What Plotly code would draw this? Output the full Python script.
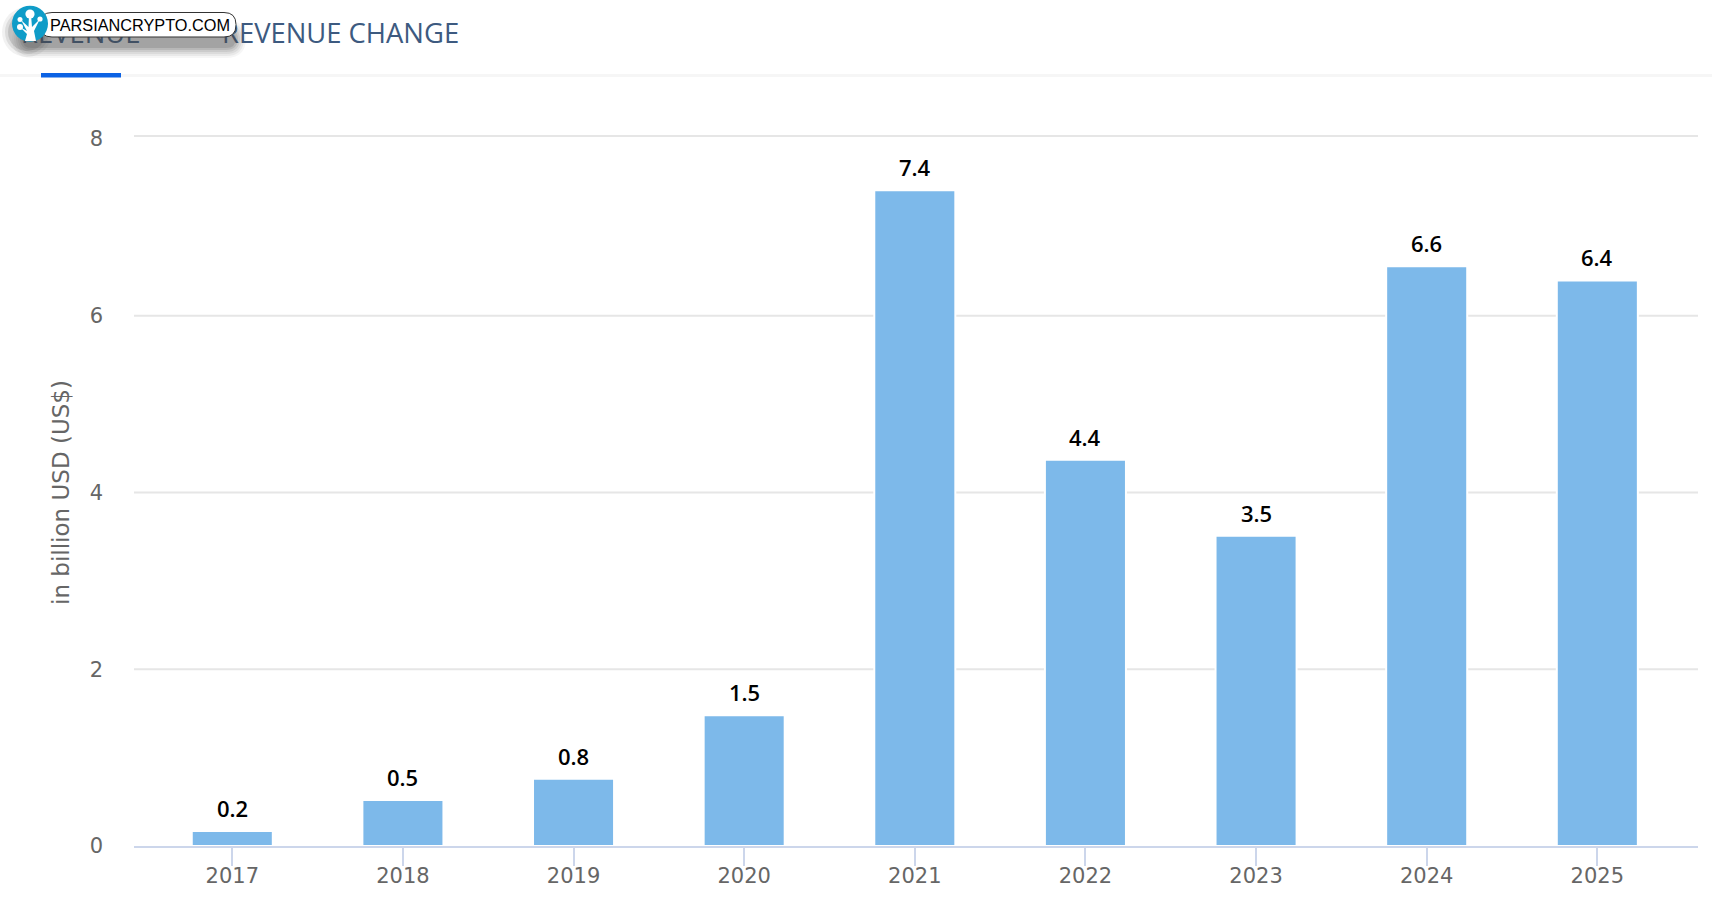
import plotly.graph_objects as go

years = ["2017", "2018", "2019", "2020", "2021", "2022", "2023", "2024", "2025"]
revenue = [0.17, 0.52, 0.76, 1.48, 7.42, 4.37, 3.51, 6.56, 6.4]
labels = ["0.2", "0.5", "0.8", "1.5", "7.4", "4.4", "3.5", "6.6", "6.4"]
y_ticks = [0, 2, 4, 6, 8]
grid_levels = [2, 4, 6]
tab_labels = ["REVENUE", "REVENUE CHANGE"]

W, H = 1712, 916
L, R, T, B = 134, 1698, 139, 846
X0, X1 = -0.576, 8.59


def px(x):
    return x / W


def py(y):
    return 1 - y / H


def rect(x0, y0, x1, y1, color):
    return dict(type="rect", xref="paper", yref="paper", x0=px(x0), x1=px(x1), y0=py(y0), y1=py(y1),
                fillcolor=color, line_width=0, layer="above")


def circ(cx, cy, r, color, opacity=1.0):
    return dict(type="circle", xref="paper", yref="paper", x0=px(cx - r), x1=px(cx + r), y0=py(cy - r), y1=py(cy + r),
                fillcolor=color, opacity=opacity, line_width=0, layer="above")


def pill(x0, y0, x1, y1, r, color, opacity=1.0, line=None):
    a = lambda x, y: f"{px(x):.5f},{py(y):.5f}"
    p = (f"M{a(x0 + r, y0)} L{a(x1 - r, y0)} Q{a(x1, y0)} {a(x1, y0 + r)} L{a(x1, y1 - r)} "
         f"Q{a(x1, y1)} {a(x1 - r, y1)} L{a(x0 + r, y1)} Q{a(x0, y1)} {a(x0, y1 - r)} "
         f"L{a(x0, y0 + r)} Q{a(x0, y0)} {a(x0 + r, y0)} Z")
    return dict(type="path", xref="paper", yref="paper", path=p, fillcolor=color, opacity=opacity,
                line=dict(color=line or color, width=1 if line else 0), layer="above")


def poly(points, color):
    p = "M" + " L".join(f"{px(x):.5f},{py(y):.5f}" for x, y in points) + " Z"
    return dict(type="path", xref="paper", yref="paper", path=p, fillcolor=color, line_width=0, layer="above")


fig = go.Figure(go.Bar(
    x=list(range(len(years))), y=revenue, width=0.475,
    marker=dict(color="#7db9ea", line=dict(color="#ffffff", width=2)),
    hoverinfo="skip",
))

# tab titles sit on an invisible full-page axis pair so the watermark shapes cover them
fig.add_trace(go.Scatter(
    x=[21, 222], y=[36, 36], xaxis="x2", yaxis="y2",
    text=tab_labels, mode="text", textposition="middle right", hoverinfo="skip",
    textfont=dict(family="Open Sans", size=27.4, color="#3d5a80", weight=500),
))

grid_line = dict(color="#e6e6e6", width=2)
shapes = [
    dict(type="line", xref="paper", yref="y", x0=L / W, x1=R / W, y0=v, y1=v, layer="below", line=grid_line)
    for v in grid_levels
]
shapes.append(dict(type="line", xref="paper", yref="paper", x0=L / W, x1=R / W, y0=py(136), y1=py(136),
                   layer="below", line=grid_line))
shapes += [rect(0, 74, W, 77, "#f6f6f6"), rect(41, 73, 121, 77.5, "#0b62e4")]
for grow, op in [(10, 0.05), (8, 0.07), (6, 0.09), (4, 0.11), (2, 0.14), (0, 0.18)]:
    shapes.append(pill(22 - grow, 30 - grow, 236 + grow, 48 + grow, 10 + grow, "#4a4a4a", op))
for grow, op in [(8, 0.08), (5, 0.12), (2, 0.18)]:
    shapes.append(circ(27, 32, 17 + grow, "#4a4a4a", op))
shapes.append(pill(40, 12.5, 236, 37, 12, "#ffffff", line="#333333"))
shapes.append(circ(30, 23.7, 18, "#0f9cc8"))
for cx, cy, r in [(30, 14, 4.6), (20, 19.5, 2.5), (20, 27, 3), (40, 19, 2.6)]:
    shapes.append(circ(cx, cy, r, "#ffffff"))
shapes.append(poly([(25, 41), (36, 41), (34, 31), (40, 19), (32, 27), (31, 15), (29, 15), (28.5, 27),
                    (21, 20), (27, 31), (20, 27), (27, 34)], "#ffffff"))

annotations = [
    dict(text=lab, x=i, y=v, yshift=23, xref="x", yref="y", xanchor="center", yanchor="middle", showarrow=False,
         font=dict(family="Open Sans", size=22, color="#000000", weight=600))
    for i, (lab, v) in enumerate(zip(labels, revenue))
]
annotations.append(dict(text="PARSIANCRYPTO.COM", x=px(47.5), y=py(25), xref="paper", yref="paper", xanchor="left",
                        yanchor="middle", showarrow=False,
                        font=dict(family="Liberation Sans", size=16.3, color="#000000")))

fig.update_layout(
    width=W, height=H, showlegend=False, plot_bgcolor="rgba(0,0,0,0)", paper_bgcolor="#ffffff",
    margin=dict(l=0, r=0, t=0, b=0, pad=0),
    shapes=shapes, annotations=annotations,
    xaxis=dict(
        domain=[L / W, R / W], anchor="y",
        range=[X0, X1], tickmode="array", tickvals=list(range(len(years))), ticktext=years,
        ticks="", showgrid=False, ticklabelstandoff=10, automargin=False,
        showline=True, linecolor="#ccd6eb", linewidth=2, zeroline=False,
        tickfont=dict(family="DejaVu Sans", size=21, color="#666666"),
        minor=dict(tickmode="array", tickvals=list(range(len(years))), ticks="outside", ticklen=18, tickwidth=1.5,
                   tickcolor="#ccd6eb", showgrid=False),
    ),
    yaxis=dict(
        domain=[1 - B / H, 1 - T / H], anchor="x", automargin=False,
        range=[0, 8], tickmode="array", tickvals=y_ticks, showgrid=False,
        zeroline=False, ticklabelstandoff=30,
        tickfont=dict(family="DejaVu Sans", size=21, color="#666666"),
        title=dict(text="in billion USD (US$)", font=dict(family="DejaVu Sans", size=23, color="#666666"), standoff=13),
    ),
    xaxis2=dict(domain=[0, 1], range=[0, W], visible=False, anchor="y2", automargin=False),
    yaxis2=dict(domain=[0, 1], range=[H, 0], visible=False, anchor="x2", automargin=False),
)

fig.write_html("out.html", config=dict(displayModeBar=False),
               post_script="document.body.style.margin='0';document.body.style.overflow='hidden';")
